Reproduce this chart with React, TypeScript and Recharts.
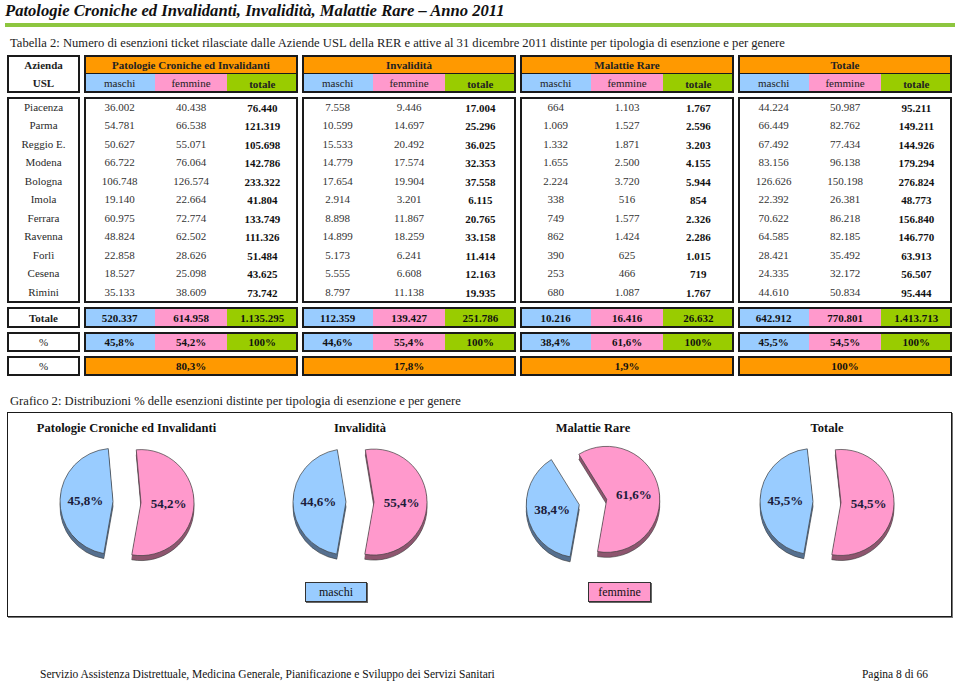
import React from 'react';
import { PieChart, Pie, Cell } from 'recharts';

const aziende = ['Piacenza', 'Parma', 'Reggio E.', 'Modena', 'Bologna', 'Imola', 'Ferrara', 'Ravenna', 'Forlì', 'Cesena', 'Rimini'];

const patMaschi = [36002, 54781, 50627, 66722, 106748, 19140, 60975, 48824, 22858, 18527, 35133];
const patFemmine = [40438, 66538, 55071, 76064, 126574, 22664, 72774, 62502, 28626, 25098, 38609];
const patTotale = [76440, 121319, 105698, 142786, 233322, 41804, 133749, 111326, 51484, 43625, 73742];

const invMaschi = [7558, 10599, 15533, 14779, 17654, 2914, 8898, 14899, 5173, 5555, 8797];
const invFemmine = [9446, 14697, 20492, 17574, 19904, 3201, 11867, 18259, 6241, 6608, 11138];
const invTotale = [17004, 25296, 36025, 32353, 37558, 6115, 20765, 33158, 11414, 12163, 19935];

const rarMaschi = [664, 1069, 1332, 1655, 2224, 338, 749, 862, 390, 253, 680];
const rarFemmine = [1103, 1527, 1871, 2500, 3720, 516, 1577, 1424, 625, 466, 1087];
const rarTotale = [1767, 2596, 3203, 4155, 5944, 854, 2326, 2286, 1015, 719, 1767];

const totMaschi = [44224, 66449, 67492, 83156, 126626, 22392, 70622, 64585, 28421, 24335, 44610];
const totFemmine = [50987, 82762, 77434, 96138, 150198, 26381, 86218, 82185, 35492, 32172, 50834];
const totTotale = [95211, 149211, 144926, 179294, 276824, 48773, 156840, 146770, 63913, 56507, 95444];

const gruppi = ['Patologie Croniche ed Invalidanti', 'Invalidità', 'Malattie Rare', 'Totale'];
const sommaMaschi = [520337, 112359, 10216, 642912];
const sommaFemmine = [614958, 139427, 16416, 770801];
const sommaTotale = [1135295, 251786, 26632, 1413713];
const quotaMaschi = [45.8, 44.6, 38.4, 45.5];
const quotaFemmine = [54.2, 55.4, 61.6, 54.5];
const quotaGruppo = [80.3, 17.8, 1.9, 100];

const colonne = [
  [patMaschi, patFemmine, patTotale],
  [invMaschi, invFemmine, invTotale],
  [rarMaschi, rarFemmine, rarTotale],
  [totMaschi, totFemmine, totTotale],
];

const ORANGE = '#ff9900';
const BLUE = '#99ccff';
const PINK = '#ff99cc';
const GREEN = '#99cc00';
const BLUE_SIDE = '#56708f';
const PINK_SIDE = '#8e566f';
const INK = '#1a1a1a';

const GX = [84, 302, 520, 738];
const GW = 214;
const SW = GW / 3;
const PIE_X = [126.5, 360, 593, 827];

const fmtInt = (n: number) => String(n).replace(/\B(?=(\d{3})+(?!\d))/g, '.');
const fmtPct = (v: number) => (v === 100 ? '100%' : v.toFixed(1).replace('.', ',') + '%');

const Txt = ({ x, y, w = 80, align = 'center', size = 11, bold = false, italic = false, color = '#222', children, style = {} }: any) => (
  <div
    style={{
      position: 'absolute',
      left: align === 'center' ? x - w / 2 : align === 'right' ? x - w : x,
      top: y - 10,
      width: w,
      height: 20,
      lineHeight: '20px',
      fontSize: size,
      fontWeight: bold ? 700 : 400,
      fontStyle: italic ? 'italic' : 'normal',
      color,
      textAlign: align,
      whiteSpace: 'nowrap',
      ...style,
    }}
  >
    {children}
  </div>
);

const Rect = ({ x, y, w, h, bg }: any) => (
  <div style={{ position: 'absolute', left: x, top: y, width: w, height: h, background: bg }} />
);

const Box = ({ x, y, w, h, bg = 'transparent', b = 2 }: any) => (
  <div style={{ position: 'absolute', left: x, top: y, width: w, height: h, boxSizing: 'border-box', border: `${b}px solid ${INK}`, background: bg }} />
);

const RAD = Math.PI / 180;
const R = 53;
const EXPLODE = 14;
const START = 260;
const DEPTH = [5, 4, 3, 2, 1];

function GenderPie({ g }: { g: number }) {
  const data = [
    { name: 'maschi', value: quotaMaschi[g] },
    { name: 'femmine', value: quotaFemmine[g] },
  ];
  const W = 200;
  const H = 140;
  const share = data[0].value / (data[0].value + data[1].value);
  const mid = START - 180 * share;
  const bx = EXPLODE * Math.cos(mid * RAD);
  const by = -EXPLODE * Math.sin(mid * RAD);
  const offs = [
    [bx, by],
    [-bx, -by],
  ];
  const top = [BLUE, PINK];
  const side = [BLUE_SIDE, PINK_SIDE];

  const label = (which: number) => (p: any) => {
    if (p.index !== which) return null;
    const x = p.cx + p.outerRadius * 0.52 * Math.cos(-p.midAngle * RAD);
    const y = p.cy + p.outerRadius * 0.52 * Math.sin(-p.midAngle * RAD);
    return (
      <text x={x} y={y} textAnchor="middle" dominantBaseline="central" fontSize={13} fontWeight={700} fill="#1b1b3a" fontFamily="Liberation Serif">
        {fmtPct(data[which].value)}
      </text>
    );
  };

  return (
    <div style={{ position: 'absolute', left: PIE_X[g] - W / 2, top: 502 - H / 2 }}>
      <PieChart width={W} height={H} margin={{ top: 0, right: 0, bottom: 0, left: 0 }}>
        {[0, 1].map((s) =>
          DEPTH.map((d) => (
            <Pie
              key={`side-${s}-${d}`}
              data={data}
              dataKey="value"
              cx={W / 2 + offs[s][0]}
              cy={H / 2 + offs[s][1] + d}
              outerRadius={R}
              startAngle={START}
              endAngle={START - 360}
              isAnimationActive={false}
            >
              {data.map((_, i) => (
                <Cell
                  key={i}
                  fill={i === s ? side[s] : 'transparent'}
                  stroke={i === s && d === 5 ? '#333' : 'none'}
                  strokeWidth={0.6}
                />
              ))}
            </Pie>
          ))
        )}
        {[0, 1].map((s) => (
          <Pie
            key={`top-${s}`}
            data={data}
            dataKey="value"
            cx={W / 2 + offs[s][0]}
            cy={H / 2 + offs[s][1]}
            outerRadius={R}
            startAngle={START}
            endAngle={START - 360}
            isAnimationActive={false}
            labelLine={false}
            label={label(s)}
          >
            {data.map((_, i) => (
              <Cell key={i} fill={i === s ? top[s] : 'transparent'} stroke={i === s ? '#404040' : 'none'} strokeWidth={0.7} />
            ))}
          </Pie>
        ))}
      </PieChart>
    </div>
  );
}

export default function App() {
  const rowY = (i: number) => 106.6 + 18.5 * i;
  const subCx = (g: number, k: number) => GX[g] + SW * k + SW / 2;

  return (
    <div
      style={{
        position: 'absolute',
        left: 0,
        top: 0,
        width: 960,
        height: 682,
        background: '#fff',
        fontFamily: '"Liberation Serif", serif',
        overflow: 'hidden',
      }}
    >
      {/* page heading */}
      <Txt x={5} y={11} w={600} align="left" size={16.6} bold italic color="#111">
        Patologie Croniche ed Invalidanti, Invalidità, Malattie Rare – Anno 2011
      </Txt>
      <Rect x={5} y={23} w={950} h={4} bg="#8dc63f" />
      <Txt x={10} y={43} w={900} align="left" size={12.6} color="#222">
        Tabella 2: Numero di esenzioni ticket rilasciate dalle Aziende USL della RER e attive al 31 dicembre 2011 distinte per tipologia di esenzione e per genere
      </Txt>

      {/* Azienda column */}
      <Box x={7} y={55} w={73} h={38} bg="#fff" />
      <Txt x={43.5} y={65} bold>Azienda</Txt>
      <Txt x={43.5} y={83} bold>USL</Txt>
      <Box x={7} y={97} w={73} h={206} bg="#fff" />
      {aziende.map((a, i) => (
        <Txt key={a} x={43.5} y={rowY(i)} color="#2a2a2a">{a}</Txt>
      ))}
      <Box x={7} y={307} w={73} h={21} bg="#fff" />
      <Txt x={43.5} y={317.5} bold>Totale</Txt>
      <Box x={7} y={332} w={73} h={20} bg="#fff" />
      <Txt x={43.5} y={342}>%</Txt>
      <Box x={7} y={356} w={73} h={20} bg="#fff" />
      <Txt x={43.5} y={366}>%</Txt>

      {gruppi.map((name, g) => (
        <React.Fragment key={name}>
          {/* header */}
          <Rect x={GX[g]} y={55} w={GW} h={19} bg={ORANGE} />
          <Rect x={GX[g]} y={73} w={GW} h={1} bg={INK} />
          <Rect x={GX[g]} y={74} w={SW} h={19} bg={BLUE} />
          <Rect x={GX[g] + SW} y={74} w={SW} h={19} bg={PINK} />
          <Rect x={GX[g] + 2 * SW} y={74} w={SW} h={19} bg={GREEN} />
          <Box x={GX[g]} y={55} w={GW} h={38} />
          <Txt x={GX[g] + GW / 2} y={65} w={GW} bold>{name}</Txt>
          <Txt x={subCx(g, 0)} y={83}>maschi</Txt>
          <Txt x={subCx(g, 1)} y={83}>femmine</Txt>
          <Txt x={subCx(g, 2)} y={83.5} bold>totale</Txt>

          {/* body */}
          <Box x={GX[g]} y={97} w={GW} h={206} bg="#fff" />
          {aziende.map((a, i) =>
            colonne[g].map((col, k) => (
              <Txt key={`${a}-${k}`} x={subCx(g, k)} y={rowY(i) + (k === 2 ? 1 : 0)} bold={k === 2} color={k === 2 ? '#111' : '#333'}>
                {fmtInt(col[i])}
              </Txt>
            ))
          )}

          {/* totals */}
          <Rect x={GX[g]} y={307} w={SW} h={21} bg={BLUE} />
          <Rect x={GX[g] + SW} y={307} w={SW} h={21} bg={PINK} />
          <Rect x={GX[g] + 2 * SW} y={307} w={SW} h={21} bg={GREEN} />
          <Box x={GX[g]} y={307} w={GW} h={21} />
          <Txt x={subCx(g, 0)} y={317.5} bold color="#111">{fmtInt(sommaMaschi[g])}</Txt>
          <Txt x={subCx(g, 1)} y={317.5} bold color="#111">{fmtInt(sommaFemmine[g])}</Txt>
          <Txt x={subCx(g, 2)} y={317.5} bold color="#111">{fmtInt(sommaTotale[g])}</Txt>

          <Rect x={GX[g]} y={332} w={SW} h={20} bg={BLUE} />
          <Rect x={GX[g] + SW} y={332} w={SW} h={20} bg={PINK} />
          <Rect x={GX[g] + 2 * SW} y={332} w={SW} h={20} bg={GREEN} />
          <Box x={GX[g]} y={332} w={GW} h={20} />
          <Txt x={subCx(g, 0)} y={342} bold color="#111">{fmtPct(quotaMaschi[g])}</Txt>
          <Txt x={subCx(g, 1)} y={342} bold color="#111">{fmtPct(quotaFemmine[g])}</Txt>
          <Txt x={subCx(g, 2)} y={342} bold color="#111">100%</Txt>

          <Box x={GX[g]} y={356} w={GW} h={20} bg={ORANGE} />
          <Txt x={GX[g] + GW / 2} y={366} bold color="#111">{fmtPct(quotaGruppo[g])}</Txt>
        </React.Fragment>
      ))}

      {/* chart section */}
      <Txt x={10} y={401} w={900} align="left" size={12.6} color="#222">
        Grafico 2: Distribuzioni % delle esenzioni distinte per tipologia di esenzione e per genere
      </Txt>
      <div
        style={{
          position: 'absolute',
          left: 7,
          top: 412,
          width: 945,
          height: 205,
          boxSizing: 'border-box',
          border: `1.5px solid ${INK}`,
          boxShadow: '1px 1px 0 #777',
        }}
      />
      {gruppi.map((name, g) => (
        <Txt key={name} x={PIE_X[g]} y={428} w={230} size={12.5} bold color="#111">{name}</Txt>
      ))}
      {gruppi.map((name, g) => (
        <GenderPie key={name} g={g} />
      ))}

      {/* legend */}
      <div style={{ position: 'absolute', left: 305, top: 582, width: 62, height: 20, boxSizing: 'border-box', background: BLUE, border: '1px solid #333', boxShadow: '1px 1px 0 #666' }} />
      <Txt x={336} y={592} size={12} color="#111">maschi</Txt>
      <div style={{ position: 'absolute', left: 588, top: 582, width: 63, height: 20, boxSizing: 'border-box', background: PINK, border: '1px solid #333', boxShadow: '1px 1px 0 #666' }} />
      <Txt x={619.5} y={592} size={12} color="#111">femmine</Txt>

      {/* footer */}
      <Txt x={40} y={674} w={600} align="left" size={11.5} color="#111">
        Servizio Assistenza Distrettuale, Medicina Generale, Pianificazione e Sviluppo dei Servizi Sanitari
      </Txt>
      <Txt x={928} y={674} w={150} align="right" size={11.5} color="#111">
        Pagina 8 di 66
      </Txt>
    </div>
  );
}
